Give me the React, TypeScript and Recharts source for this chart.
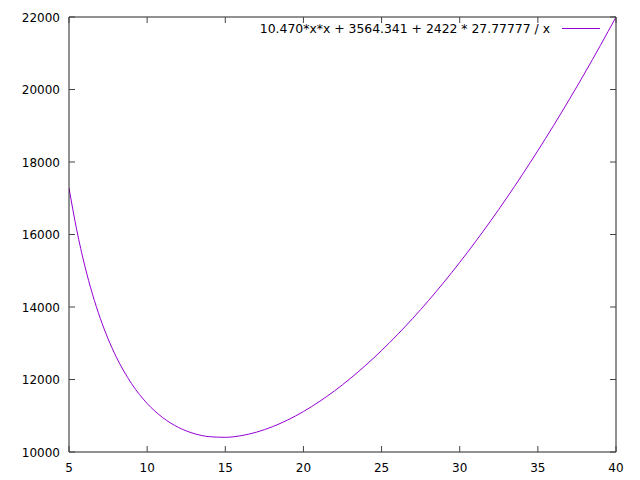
import React from "react";
import { LineChart, Line, XAxis, YAxis } from "recharts";

const xValues = [5, 5.5, 6, 6.5, 7, 7.5, 8, 9, 10, 11, 12, 13, 14, 15, 16, 17, 18, 19, 20, 21, 22, 23, 24, 25, 26, 27, 28, 29, 30, 31, 32, 33, 34, 35, 36, 37, 38, 39, 40];
const yValues = [17281.64, 16113.38, 15154.22, 14357.12, 13688.48, 13123.65, 12644.14, 11887.72, 11339.12, 10947.37, 10678.5, 10508.98, 10422.01, 10405.27, 10449.52, 10547.69, 10694.27, 10884.94, 11116.23, 11385.31, 11689.9, 12028.09, 12398.3, 12799.2, 13229.67, 13688.74, 14175.6, 14689.53, 15229.93, 15796.26, 16388.05, 17004.89, 17646.42, 18312.31, 19002.29, 19716.09, 20453.49, 21214.28, 21998.28];
const xTicks = [5, 10, 15, 20, 25, 30, 35, 40];
const yTicks = [10000, 12000, 14000, 16000, 18000, 20000, 22000];
const seriesLabel = "10.470*x*x + 3564.341 + 2422 * 27.77777 / x";

const data = xValues.map((x, i) => ({ x, y: yValues[i] }));

const FONT = "'DejaVu Sans', sans-serif";
const AXIS = "#222";

const bottomTick = (props: any) => {
  const { x, y, payload } = props;
  return (
    <g key={`b-${payload.value}`}>
      <line x1={x} y1={y} x2={x} y2={y - 6} stroke="#444" strokeWidth={1} />
      <text x={x} y={y + 20} textAnchor="middle" fontSize={12} fontFamily={FONT} fill="#000">
        {payload.value}
      </text>
    </g>
  );
};

const topTick = (props: any) => {
  const { x, y, payload } = props;
  return <line key={`t-${payload.value}`} x1={x} y1={y} x2={x} y2={y + 6} stroke="#444" strokeWidth={1} />;
};

const leftTick = (props: any) => {
  const { x, y, payload } = props;
  return (
    <g key={`l-${payload.value}`}>
      <line x1={x} y1={y} x2={x + 6} y2={y} stroke="#444" strokeWidth={1} />
      <text x={x - 9} y={y + 4.5} textAnchor="end" fontSize={12} fontFamily={FONT} fill="#000">
        {payload.value}
      </text>
    </g>
  );
};

const rightTick = (props: any) => {
  const { x, y, payload } = props;
  return <line key={`r-${payload.value}`} x1={x} y1={y} x2={x - 6} y2={y} stroke="#444" strokeWidth={1} />;
};

export default function App() {
  return (
    <div style={{ position: "absolute", left: 0, top: 0, width: 640, height: 480, background: "#fff" }}>
      <LineChart width={640} height={480} data={data} margin={{ top: 16, right: 23, bottom: 8, left: 9 }}>
        <XAxis
          dataKey="x"
          type="number"
          domain={[5, 40]}
          ticks={xTicks}
          allowDataOverflow
          height={20}
          tickSize={0}
          tickMargin={0}
          tickLine={false}
          stroke={AXIS}
          tick={bottomTick}
        />
        <XAxis
          xAxisId="top"
          orientation="top"
          dataKey="x"
          type="number"
          domain={[5, 40]}
          ticks={xTicks}
          allowDataOverflow
          height={1}
          tickSize={0}
          tickMargin={0}
          tickLine={false}
          stroke={AXIS}
          tick={topTick}
        />
        <YAxis
          type="number"
          domain={[10000, 22000]}
          ticks={yTicks}
          allowDataOverflow
          width={60}
          tickSize={0}
          tickMargin={0}
          tickLine={false}
          stroke={AXIS}
          tick={leftTick}
        />
        <YAxis
          yAxisId="right"
          orientation="right"
          type="number"
          domain={[10000, 22000]}
          ticks={yTicks}
          allowDataOverflow
          width={1}
          tickSize={0}
          tickMargin={0}
          tickLine={false}
          stroke={AXIS}
          tick={rightTick}
        />
        <Line
          type="monotone"
          dataKey="y"
          stroke="#9400d3"
          strokeWidth={1}
          dot={false}
          isAnimationActive={false}
        />
      </LineChart>
      <div
        style={{
          position: "absolute",
          right: 90,
          top: 21,
          fontFamily: FONT,
          fontSize: 12.4,
          color: "#000",
          whiteSpace: "nowrap",
          lineHeight: "16px",
        }}
      >
        {seriesLabel}
      </div>
      <div
        style={{
          position: "absolute",
          left: 562,
          top: 28,
          width: 38,
          height: 1,
          background: "#9400d3",
        }}
      />
    </div>
  );
}
